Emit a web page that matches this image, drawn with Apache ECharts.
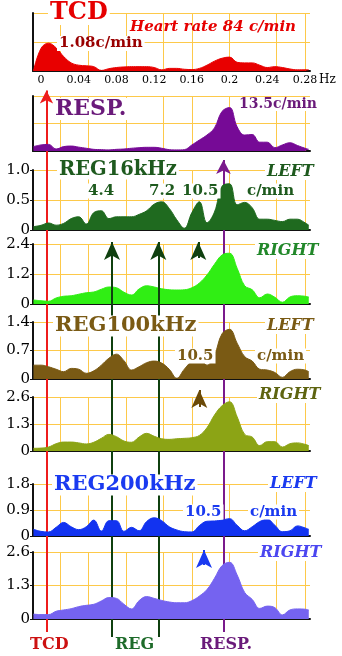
<!DOCTYPE html>
<html>
<head>
<meta charset="utf-8">
<script src="https://cdn.jsdelivr.net/npm/echarts@6/dist/echarts.min.js"></script>
<style>
html, body { margin: 0; padding: 0; background: #fff; }
#chart { width: 342px; height: 656px; }
</style>
</head>
<body>
<div id="chart"></div>
<script>
// frequency samples (Hz), shared by every spectrum
var freq = [-0.008, 0, 0.008, 0.016, 0.024, 0.032, 0.04, 0.048, 0.056, 0.064, 0.072, 0.08, 0.088,
    0.096, 0.104, 0.112, 0.12, 0.128, 0.136, 0.144, 0.152, 0.16, 0.168, 0.176, 0.184, 0.192, 0.2,
    0.208, 0.216, 0.224, 0.232, 0.24, 0.248, 0.256, 0.264, 0.272, 0.28, 0.284];

var tcd = [0, 0.39, 0.48, 0.40, 0.25, 0.14, 0.10, 0.09, 0.075, 0.01, 0.04, 0.06, 0.07, 0.075, 0.075, 0.075,
    0.06, 0.02, 0.045, 0.045, 0.03, 0.025, 0.045, 0.10, 0.17, 0.22, 0.24, 0.15, 0.14, 0.14, 0.10, 0.06,
    0.075, 0.06, 0.035, 0.02, 0.02, 0.02];
var resp = [0.08, 0.11, 0.12, 0.036, 0.08, 0.09, 0.07, 0.05, 0.03, 0.025, 0.02, 0.03, 0.036, 0.05, 0.06,
    0.067, 0.067, 0.05, 0.025, 0.02, 0.025, 0.11, 0.20, 0.29, 0.42, 0.72, 0.79, 0.44, 0.29, 0.30, 0.16,
    0.16, 0.06, 0.11, 0.15, 0.10, 0.05, 0.03];
var reg16L = [0.056, 0.078, 0.117, 0.08, 0.11, 0.19, 0.22, 0.10, 0.29, 0.32, 0.19, 0.22, 0.22, 0.22, 0.26,
    0.32, 0.43, 0.47, 0.36, 0.17, 0.03, 0.29, 0.47, 0.12, 0.30, 0.73, 0.77, 0.42, 0.46, 0.37, 0.18, 0.18,
    0.16, 0.14, 0.18, 0.18, 0.12, 0.08];
var reg16R = [0.16, 0.13, 0.11, 0.24, 0.31, 0.33, 0.39, 0.45, 0.48, 0.59, 0.68, 0.65, 0.47, 0.36, 0.60,
    0.73, 0.68, 0.61, 0.57, 0.56, 0.57, 0.65, 0.84, 1.16, 1.59, 1.96, 2.03, 1.43, 0.73, 0.57, 0.25, 0.40,
    0.27, 0.07, 0.28, 0.33, 0.31, 0.28];
var reg100L = [0.34, 0.34, 0.30, 0.24, 0.18, 0.26, 0.24, 0.14, 0.20, 0.34, 0.51, 0.61, 0.45, 0.22, 0.30,
    0.40, 0.44, 0.39, 0.24, 0.02, 0.24, 0.43, 0.47, 0.34, 0.59, 1.11, 1.22, 0.88, 0.55, 0.44, 0.24, 0.22,
    0.16, 0.04, 0.18, 0.24, 0.22, 0.18];
var reg100R = [0.13, 0.14, 0.19, 0.35, 0.43, 0.43, 0.39, 0.34, 0.42, 0.61, 0.80, 0.69, 0.48, 0.42, 0.67,
    0.85, 0.71, 0.59, 0.56, 0.59, 0.61, 0.64, 0.75, 1.12, 1.73, 2.18, 2.37, 1.65, 0.80, 0.67, 0.26, 0.45,
    0.45, 0.19, 0.35, 0.39, 0.32, 0.26];
var reg200L = [0.23, 0.16, 0.14, 0.30, 0.47, 0.32, 0.22, 0.32, 0.55, 0.17, 0.53, 0.53, 0.16, 0.30, 0.18,
    0.50, 0.63, 0.53, 0.32, 0.21, 0.15, 0.14, 0.36, 0.51, 0.52, 0.55, 0.60, 0.37, 0.18, 0.32, 0.50, 0.58,
    0.37, 0.15, 0.18, 0.35, 0.28, 0.23];
var reg200R = [0.19, 0.17, 0.17, 0.30, 0.35, 0.40, 0.48, 0.53, 0.57, 0.70, 0.83, 0.80, 0.57, 0.39, 0.71,
    0.87, 0.80, 0.72, 0.66, 0.63, 0.63, 0.71, 0.89, 1.14, 1.58, 2.07, 2.20, 1.71, 1.03, 0.76, 0.41, 0.50,
    0.44, 0.16, 0.35, 0.39, 0.38, 0.35];

var freqTicks = [0, 0.04, 0.08, 0.12, 0.16, 0.2, 0.24, 0.28];
var gridFreq = [0.017, 0.049, 0.087, 0.126, 0.164, 0.205, 0.246, 0.284];

// marker frequencies
var tcdMark = 0.0058;
var respMark = 0.1935;
var regMarks = [0.0753, 0.1244];
var peakMarks = [0.1668, 0.1679, 0.1729]; // 10.5 c/min : 16, 100, 200 kHz

// panel layout
var panels = [
    {data: tcd,     color: '#e80000', top: 13,  height: 58, max: 1,   labels: false},
    {data: resp,    color: '#760a96', top: 96,  height: 55, max: 1,   labels: false},
    {data: reg16L,  color: '#1f6a1f', top: 170, height: 60, max: 1,   labels: true},
    {data: reg16R,  color: '#30ee14', top: 244, height: 60, max: 2.4, labels: true},
    {data: reg100L, color: '#7a5a14', top: 322, height: 57, max: 1.4, labels: true},
    {data: reg100R, color: '#8ca415', top: 397, height: 54, max: 2.6, labels: true},
    {data: reg200L, color: '#1233f0', top: 484, height: 52, max: 1.8, labels: true},
    {data: reg200R, color: '#7563f0', top: 552, height: 67, max: 2.6, labels: true}
];

var notes = [
    {t: 'TCD', x: 48, y: 13, s: 24, c: '#e60000', bg: true},
    {t: 'Heart rate 84 c/min', x: 130, y: 27, s: 15, c: '#e60000', it: true},
    {t: '1.08c/min', x: 57, y: 43.5, s: 15, c: '#990000', bg: true},
    {t: 'RESP.', x: 53, y: 109, s: 22, c: '#6a1a7a', bg: true},
    {t: '13.5c/min', x: 237, y: 104, s: 14, c: '#6a1a7a', bg: true},
    {t: 'REG16kHz', x: 57, y: 169.5, s: 19.5, c: '#1e5a1e', bg: true},
    {t: 'LEFT', x: 265, y: 172, s: 16, c: '#1e5a1e', it: true, bg: true},
    {t: '4.4', x: 86, y: 191, s: 15, c: '#1e5a1e', bg: true},
    {t: '7.2', x: 147, y: 191, s: 15, c: '#1e5a1e', bg: true},
    {t: '10.5', x: 180, y: 191, s: 15, c: '#1e5a1e', bg: true},
    {t: 'c/min', x: 245, y: 191, s: 15, c: '#1e5a1e', bg: true},
    {t: 'RIGHT', x: 255, y: 251, s: 16, c: '#22882a', it: true, bg: true},
    {t: 'REG100kHz', x: 53, y: 326, s: 21, c: '#7a5a14', bg: true},
    {t: 'LEFT', x: 265, y: 326, s: 16, c: '#7a5a14', it: true, bg: true},
    {t: '10.5', x: 175, y: 356, s: 15, c: '#7a5a14', bg: true},
    {t: 'c/min', x: 255, y: 356, s: 15, c: '#7a5a14', bg: true},
    {t: 'RIGHT', x: 257, y: 395, s: 16, c: '#5e6410', it: true, bg: true},
    {t: 'REG200kHz', x: 52, y: 485, s: 21, c: '#1a3af0', bg: true},
    {t: 'LEFT', x: 268, y: 484, s: 16, c: '#1a3af0', it: true, bg: true},
    {t: '10.5', x: 183, y: 512, s: 15, c: '#1a3af0', bg: true},
    {t: 'c/min', x: 248, y: 512, s: 15, c: '#1a3af0', bg: true},
    {t: 'RIGHT', x: 258, y: 553, s: 16, c: '#4b46f0', it: true, bg: true},
    {t: 'TCD', x: 30, y: 645, s: 16, c: '#cc1111'},
    {t: 'REG', x: 115, y: 645, s: 16, c: '#1e6b2a'},
    {t: 'RESP.', x: 200, y: 645, s: 16, c: '#6a1a7a'},
    {t: 'Hz', x: 319, y: 80, s: 12, c: '#000', normal: true}
];

var fmt = function (v) { return v === 0 ? '0' : v.toFixed(1); };
var yellow = '#fdc94a';

var grids = [], xAxes = [], yAxes = [], series = [];

panels.forEach(function (p, i) {
    grids.push({left: 33, right: 32, top: p.top, height: p.height, containLabel: false, outerBoundsMode: 'none'});
    xAxes.push({
        type: 'value', gridIndex: i, min: -0.0085, max: 0.2853,
        axisLine: {show: true, onZero: false, lineStyle: {color: '#111', width: 2}},
        axisTick: {show: false},
        splitLine: {show: false},
        axisLabel: i === 0 ? {
            show: true, customValues: freqTicks, margin: 4, color: '#000',
            fontFamily: 'DejaVu Serif', fontSize: 11
        } : {show: false}
    });
    yAxes.push({
        type: 'value', gridIndex: i, min: 0, max: p.max, interval: p.max / 2,
        axisLine: {show: true, onZero: false, lineStyle: {color: '#111', width: 2}},
        axisTick: {show: p.labels, length: 3, lineStyle: {color: '#111'}},
        splitLine: {show: true, lineStyle: {color: yellow, width: 1}},
        axisLabel: {show: p.labels, margin: 3, color: '#000', fontFamily: 'DejaVu Serif', fontSize: 15, formatter: fmt}
    });
    series.push({
        type: 'line', xAxisIndex: i, yAxisIndex: i, z: 2, silent: true,
        smooth: 0.4, symbol: 'none',
        lineStyle: {color: p.color, width: 1},
        areaStyle: {color: p.color, opacity: 1},
        data: freq.map(function (f, k) { return [f, p.data[k]]; }),
        // vertical yellow guides behind the spectrum
        markLine: {
            silent: true, z: 1, symbol: ['none', 'none'], animation: false,
            label: {show: false}, emphasis: {disabled: true},
            lineStyle: {color: yellow, width: 1, type: 'solid'},
            data: gridFreq.map(function (f) { return {xAxis: f}; })
        }
    });
});

// overlay grid covering the whole picture, y in pixel rows
grids.push({left: 0, right: 0, top: 0, bottom: 0, containLabel: false, outerBoundsMode: 'none'});
xAxes.push({type: 'value', gridIndex: 8, min: -0.0435, max: 0.31924, show: false});
yAxes.push({type: 'value', gridIndex: 8, min: 0, max: 656, inverse: true, show: false});

function vline(f, yBottom, yEnd, arrow) {
    var end = {coord: [f, yEnd]};
    if (arrow) { end.symbol = 'arrow'; end.symbolSize = arrow; }
    return [{coord: [f, yBottom], symbol: 'none'}, end];
}

function overlay(color, width, z, items) {
    series.push({
        type: 'line', xAxisIndex: 8, yAxisIndex: 8, data: [], silent: true,
        markLine: {
            silent: true, z: z, symbol: ['none', 'none'], animation: false,
            label: {show: false}, emphasis: {disabled: true},
            lineStyle: {color: color, width: width, type: 'solid'},
            data: items
        }
    });
}

overlay('#ee1c1c', 2, 1.5, [vline(tcdMark, 632, 90.5, [10, 13])]);
overlay('#7a1a8c', 2, 1.5, [vline(respMark, 632, 160, [11, 14])]);
overlay('#0f400f', 2, 1.5, [vline(regMarks[0], 637, 304), vline(regMarks[1], 637, 304)]);
overlay('#0f400f', 2, 6, [
    vline(regMarks[0], 304, 242, [12, 18]),
    vline(regMarks[1], 304, 242, [12, 18]),
    vline(peakMarks[0], 258, 242, [12, 18])
]);
overlay('#6b4a08', 2, 6, [vline(peakMarks[1], 407, 390, [12, 18])]);
overlay('#1a3af0', 2, 6, [vline(peakMarks[2], 565, 550, [12, 18])]);

var graphics = notes.map(function (n) {
    return {
        type: 'text', x: n.x, y: n.y, z: 100, silent: true,
        style: {
            text: n.t, fill: n.c,
            font: (n.it ? 'italic ' : '') + (n.normal ? '' : 'bold ') + n.s + 'px "DejaVu Serif"',
            align: 'left', verticalAlign: 'middle',
            backgroundColor: n.bg ? '#fff' : null, padding: n.bg ? [0, 2] : 0
        }
    };
});

var chart = echarts.init(document.getElementById('chart'));
chart.setOption({
    animation: false,
    backgroundColor: '#fff',
    grid: grids,
    xAxis: xAxes,
    yAxis: yAxes,
    series: series,
    graphic: graphics
});
</script>
</body>
</html>
